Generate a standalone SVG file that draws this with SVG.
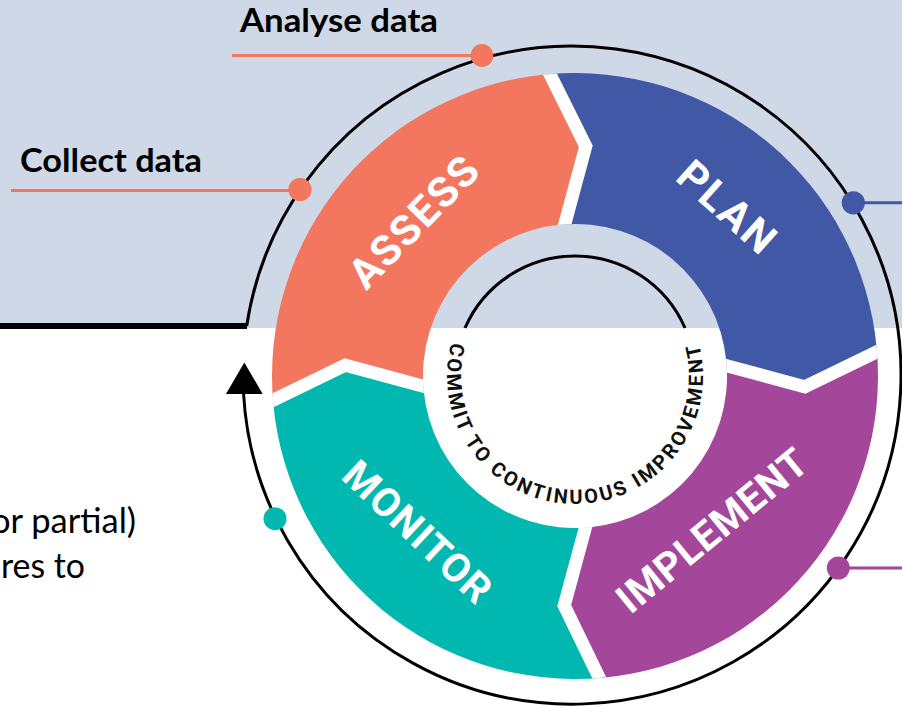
<svg xmlns="http://www.w3.org/2000/svg" width="902" height="706" viewBox="0 0 902 706">
<defs>
<style>
.lbl{font-family:Lato,"Liberation Sans",sans-serif;font-weight:700;font-size:33px;fill:#000}
.body{font-family:Lato,"Liberation Sans",sans-serif;font-weight:400;font-size:34px;fill:#000}
.seg{font-family:Roboto,"Liberation Sans",sans-serif;font-weight:700;fill:#fff;text-anchor:middle}
.gap{fill:none;stroke:#fff;stroke-width:13;stroke-linejoin:miter;stroke-linecap:butt}
.ringtxt{font-family:Roboto,"Liberation Sans",sans-serif;font-weight:700;font-size:20px;letter-spacing:2.6px;fill:#111}
.blk{fill:none;stroke:#000;stroke-width:3}
</style>
<clipPath id="annulus"><path clip-rule="evenodd" d="M 272 376 A 303 303 0 1 1 878 376 A 303 303 0 1 1 272 376 Z M 423 376 A 152 152 0 1 0 727 376 A 152 152 0 1 0 423 376 Z"/></clipPath>
<path id="ringPath" d="M 451.5 342.4 A 128 128 0 1 0 695.3 332.2"/>
</defs>

<g id="background">
<rect x="0" y="0" width="902" height="328" fill="#ced8e6"/>
<rect x="0" y="328" width="902" height="378" fill="#ffffff"/>
</g>

<g id="connectors">
<path class="blk" d="M 246.7 326 A 329 329 0 1 1 243.5 393"/>
<polygon points="244.3,362.5 226,394 262.7,394" fill="#000"/>
<line x1="0" y1="326" x2="247" y2="326" stroke="#000" stroke-width="6"/>
<path class="blk" d="M 465 328 A 120 120 0 0 1 685 328"/>
<line x1="232" y1="55.6" x2="482" y2="55.6" stroke="#f3765f" stroke-width="3"/>
<line x1="11" y1="190.6" x2="300" y2="190.6" stroke="#f3765f" stroke-width="3"/>
<line x1="853" y1="202.8" x2="902" y2="202.8" stroke="#4158a7" stroke-width="3"/>
<line x1="838" y1="568" x2="902" y2="568" stroke="#a4479a" stroke-width="3"/>
<circle cx="482" cy="55.5" r="11.4" fill="#f3765f"/>
<circle cx="300" cy="189.5" r="11.6" fill="#f3765f"/>
<circle cx="853.3" cy="202.8" r="11.6" fill="#4158a7"/>
<circle cx="838.3" cy="568" r="11.5" fill="#a4479a"/>
<circle cx="275" cy="518.7" r="11.5" fill="#00b8b0"/>
</g>

<g id="assess">
<path fill="#f3765f" d="M 273.3 404.0 A 303 303 0 0 1 547.0 74.3 L 585.8 146.3 L 561.0 224.6 A 152 152 0 0 0 423.6 390.0 L 345.3 365.2 Z"/>
<text class="seg" font-size="42" letter-spacing="2" transform="translate(414,221) rotate(-45.6)" y="15">ASSESS</text>
</g>

<g id="plan">
<path fill="#4158a7" d="M 547.0 74.3 A 303 303 0 0 1 876.7 348.0 L 804.7 386.8 L 726.4 362.0 A 152 152 0 0 0 561.0 224.6 L 585.8 146.3 Z"/>
<text class="seg" font-size="42" letter-spacing="2.5" transform="translate(728,207.5) rotate(41.8)" y="15">PLAN</text>
</g>

<g id="implement">
<path fill="#a4479a" d="M 876.7 348.0 A 303 303 0 0 1 603.0 677.7 L 564.2 605.7 L 589.0 527.4 A 152 152 0 0 0 726.4 362.0 L 804.7 386.8 Z"/>
<text class="seg" font-size="40" letter-spacing="0.8" transform="translate(712,530) rotate(-39.3)" y="14.2">IMPLEMENT</text>
</g>

<g id="monitor">
<path fill="#00b8b0" d="M 603.0 677.7 A 303 303 0 0 1 273.3 404.0 L 345.3 365.2 L 423.6 390.0 A 152 152 0 0 0 589.0 527.4 L 564.2 605.7 Z"/>
<text class="seg" font-size="40" letter-spacing="1.2" transform="translate(418,532) rotate(43.2)" y="14.2">MONITOR</text>
</g>

<g id="separators" clip-path="url(#annulus)">
<polyline class="gap" points="545.1,64.4 585.8,146.3 562.0,234.5"/>
<polyline class="gap" points="886.6,347.1 804.7,386.8 716.4,362.9"/>
<polyline class="gap" points="604.0,687.6 564.2,605.7 588.1,517.5"/>
<polyline class="gap" points="263.3,404.9 345.3,365.2 433.6,389.1"/>
</g>

<g id="center-text">
<text class="ringtxt"><textPath href="#ringPath">COMMIT TO CONTINUOUS IMPROVEMENT</textPath></text>
</g>

<g id="labels">
<text class="lbl" x="240" y="31.7" textLength="198" lengthAdjust="spacingAndGlyphs">Analyse data</text>
<text class="lbl" x="20" y="171.7" textLength="182" lengthAdjust="spacingAndGlyphs">Collect data</text>
<text class="body" x="-9" y="533" textLength="145" lengthAdjust="spacingAndGlyphs">or partial)</text>
<text class="body" x="1" y="578" textLength="84" lengthAdjust="spacingAndGlyphs">res to</text>
</g>
</svg>
